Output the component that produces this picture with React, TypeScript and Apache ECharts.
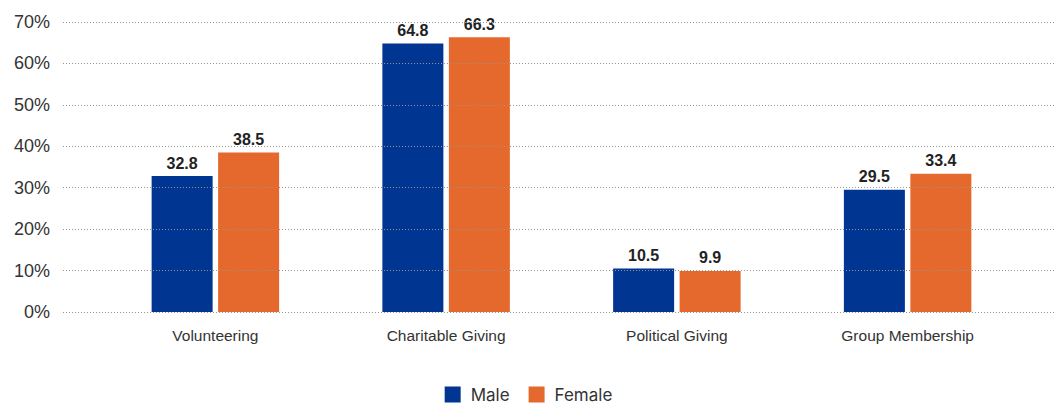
import React, { useEffect, useRef } from "react";
import * as echarts from "echarts";

const categories = ["Volunteering", "Charitable Giving", "Political Giving", "Group Membership"];
const maleValues = [32.8, 64.8, 10.5, 29.5];
const femaleValues = [38.5, 66.3, 9.9, 33.4];
const seriesNames = ["Male", "Female"];
const yTicks = { min: 0, max: 70, interval: 10 };

const BLUE = "#003591";
const ORANGE = "#E5692D";

export default function App() {
  const ref = useRef<HTMLDivElement>(null);
  useEffect(() => {
    if (!ref.current) return;
    const chart = echarts.init(ref.current, null, { renderer: "svg" });
    const labelStyle = {
      show: true,
      position: "top",
      distance: 5,
      fontFamily: "Liberation Sans, Arial, sans-serif",
      fontWeight: "bold",
      fontSize: 16,
      color: "#222",
      formatter: (p: any) => p.value.toFixed(1),
    };
    chart.setOption({
      animation: false,
      backgroundColor: "#fff",
      grid: [
        { left: 63, right: 3, top: 22, bottom: 97 },
        { left: 100, right: 34, top: 22, bottom: 97 },
      ],
      legend: {
        data: seriesNames,
        top: 381,
        left: "center",
        itemWidth: 16,
        itemHeight: 16,
        itemGap: 19,
        icon: "rect",
        textStyle: {
          fontFamily: "Inter, Noto Sans, sans-serif",
          fontSize: 17,
          color: "#333",
          padding: [0, 0, 0, 5],
        },
      },
      xAxis: [
        { type: "value", gridIndex: 0, show: false, min: 0, max: 1 },
        {
          type: "category",
          gridIndex: 1,
          data: categories,
          axisLine: { show: false },
          axisTick: { show: false },
          axisLabel: {
            margin: 15,
            fontFamily: "Liberation Sans, Arial, sans-serif",
            fontSize: 15.5,
            color: "#333",
          },
        },
      ],
      yAxis: [
        {
          type: "value",
          gridIndex: 0,
          min: yTicks.min,
          max: yTicks.max,
          interval: yTicks.interval,
          z: 5,
          axisLine: { show: false },
          axisTick: { show: false },
          axisLabel: {
            formatter: "{value}%",
            margin: 13,
            fontFamily: "Liberation Sans, Arial, sans-serif",
            fontSize: 18,
            color: "#333",
          },
          splitLine: { show: true, lineStyle: { color: "#959595", type: [1, 2], width: 1 } },
        },
        {
          type: "value",
          gridIndex: 1,
          min: yTicks.min,
          max: yTicks.max,
          interval: yTicks.interval,
          show: false,
          splitLine: { show: false },
        },
      ],
      series: [
        {
          name: seriesNames[0],
          type: "bar",
          xAxisIndex: 1,
          yAxisIndex: 1,
          data: maleValues,
          barWidth: 61,
          barGap: "9%",
          itemStyle: { color: BLUE },
          label: labelStyle,
        },
        {
          name: seriesNames[1],
          type: "bar",
          xAxisIndex: 1,
          yAxisIndex: 1,
          data: femaleValues,
          barWidth: 61,
          barGap: "9%",
          itemStyle: { color: ORANGE },
          label: labelStyle,
        },
      ],
    });
    return () => chart.dispose();
  }, []);
  return (
    <div
      ref={ref}
      style={{ position: "fixed", left: 0, top: 0, width: 1057, height: 409 }}
    />
  );
}
